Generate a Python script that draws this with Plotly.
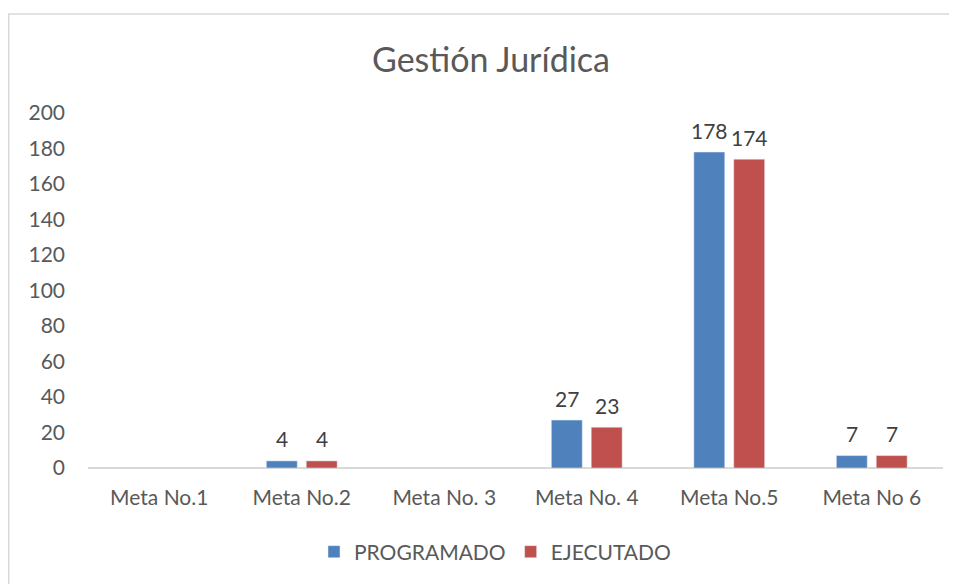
import plotly.graph_objects as go

categories = ["Meta No.1", "Meta No.2", "Meta No. 3", "Meta No. 4", "Meta No.5", "Meta No 6"]
programado = [None, 4, None, 27, 178, 7]
ejecutado = [None, 4, None, 23, 174, 7]
y_ticks = [0, 20, 40, 60, 80, 100, 120, 140, 160, 180, 200]

FONT = "Lato, 'Open Sans', sans-serif"
TXT = "#595959"

W, H = 949, 576
L, R, T, B = 80, 14, 105, 116
PW, PH = W - L - R, H - T - B

fig = go.Figure()
fig.add_trace(go.Bar(name="PROGRAMADO", x=categories, y=programado,
                     marker=dict(color="#4F81BD")))
fig.add_trace(go.Bar(name="EJECUTADO", x=categories, y=ejecutado,
                     marker=dict(color="#C0504D")))

annotations = []
for series, dx in ((programado, -20), (ejecutado, 20)):
    for cat, v in zip(categories, series):
        if v is None:
            continue
        annotations.append(dict(x=cat, y=v, xref="x", yref="y", text=str(v),
                                showarrow=False, xshift=dx, yshift=22,
                                yanchor="middle", xanchor="center",
                                font=dict(size=21, color="#404040", family=FONT)))

fig.update_layout(
    width=W, height=H,
    margin=dict(l=L, r=R, t=T, b=B),
    paper_bgcolor="white", plot_bgcolor="white",
    barmode="group", bargap=0.44, bargroupgap=0.225,
    font=dict(family=FONT, color=TXT, size=21),
    title=dict(text="Gestión Jurídica", x=483 / W, xanchor="center",
               y=1 - 52 / H, yanchor="middle", yref="container",
               font=dict(size=34, color=TXT, family=FONT)),
    showlegend=True,
    legend=dict(orientation="h", x=(487 - L) / PW, xanchor="center",
                y=(T + PH - 544) / PH, yanchor="middle",
                font=dict(size=21, color=TXT, family=FONT), traceorder="normal",
                itemwidth=30),
    xaxis=dict(showgrid=False, showline=False, zeroline=False, ticks="",
               ticklabelstandoff=15, tickfont=dict(size=21, color=TXT)),
    yaxis=dict(range=[0, 200], tickvals=y_ticks, showgrid=False, showline=False,
               zeroline=True, zerolinecolor="#D9D9D9", zerolinewidth=2,
               ticks="", ticklabelstandoff=22, tickfont=dict(size=21, color=TXT)),
    annotations=annotations,
    shapes=[
        dict(type="line", xref="paper", yref="paper",
             x0=(0.75 - L) / PW, x1=(0.75 - L) / PW,
             y0=(T + PH - 6) / PH, y1=(T + PH - 600) / PH,
             line=dict(color="#D9D9D9", width=1.5)),
        dict(type="line", xref="paper", yref="paper",
             x0=(0 - L) / PW, x1=(W + 5 - L) / PW,
             y0=(T + PH - 6) / PH, y1=(T + PH - 6) / PH,
             line=dict(color="#D9D9D9", width=1.5)),
    ],
)

fig.write_html("out.html")
